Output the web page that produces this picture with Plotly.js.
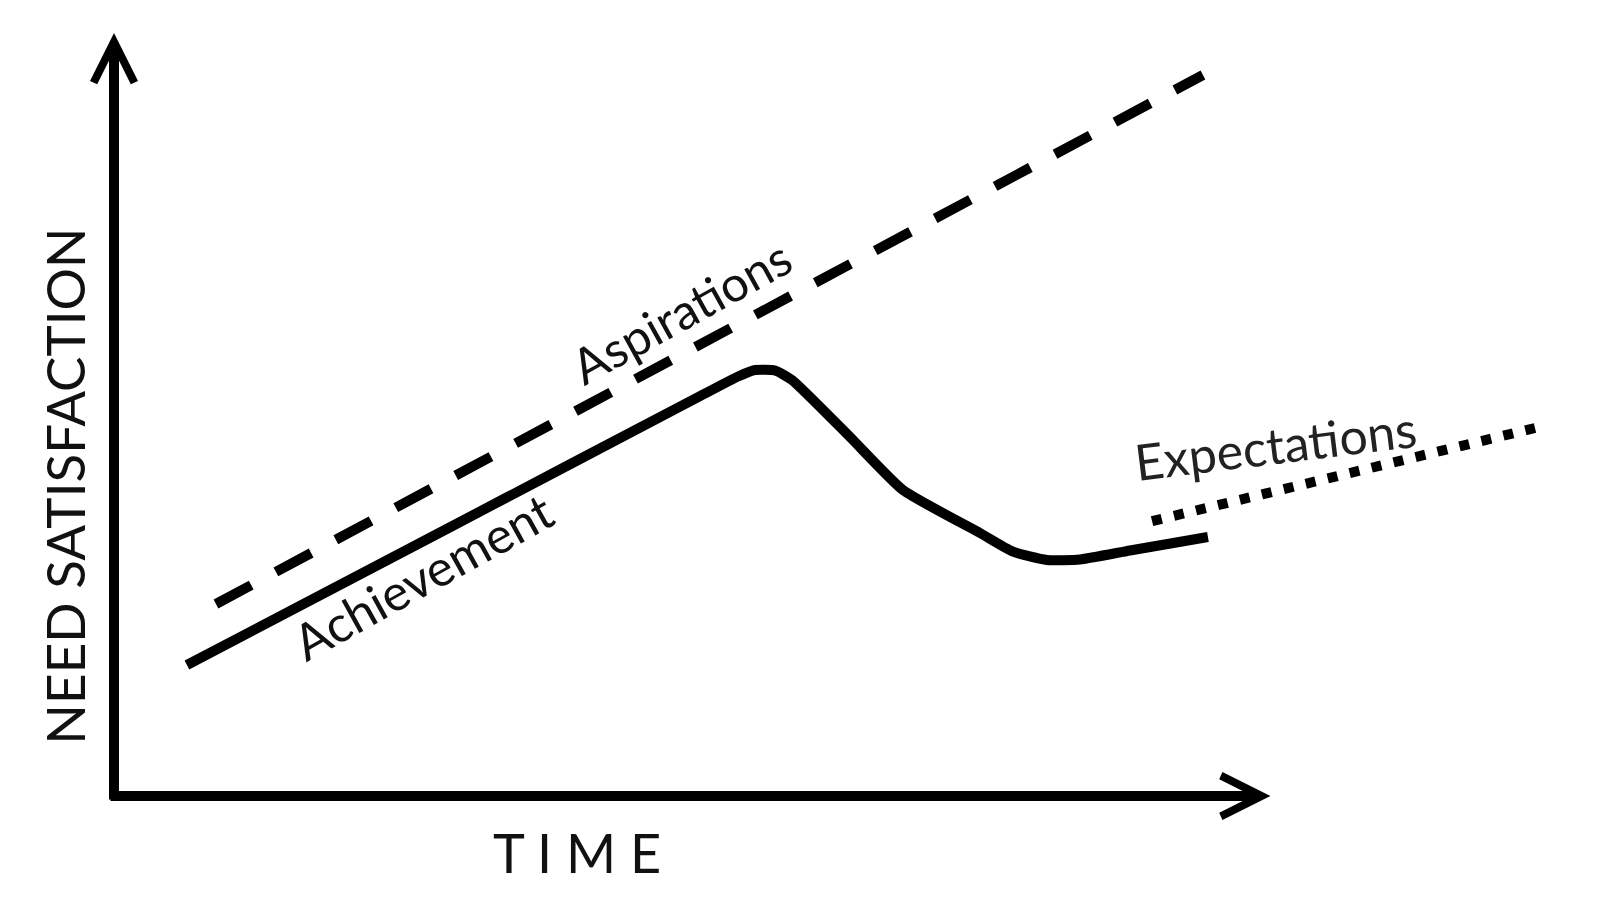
<!DOCTYPE html>
<html>
<head>
<meta charset="utf-8">
<script src="https://cdn.plot.ly/plotly-3.0.1.min.js"></script>
<style>
  html, body { margin: 0; padding: 0; background: #ffffff; }
  #chart { width: 1600px; height: 900px; }
</style>
</head>
<body>
<div id="chart"></div>
<script>
// ---- Data (time units on x, need-satisfaction units on y) ----
const achievementX = [5.10, 23.50, 40.98, 43.64, 44.83, 46.22, 47.41, 51.47, 55.17, 60.56, 62.87, 65.24, 67.55, 71.05, 76.50];
const achievementY = [17.17, 35.23, 52.40, 54.98, 55.83, 55.77, 54.52, 47.05, 40.10, 34.47, 32.02, 30.93, 31.00, 32.18, 33.94];

const aspirationsX = [7.13, 76.15];
const aspirationsY = [25.16, 94.50];

const expectationsX = [72.59, 99.37];
const expectationsY = [36.02, 48.23];

// axis extents drawn as arrows
const timeAxisX = [-0.35, 80.87];
const needAxisY = [-0.65, 100];

const seriesNames = ["Achievement", "Aspirations", "Expectations"];
const axisLabels = ["T I M E", "NEED SATISFACTION"];

const FONT = "Lato, 'DejaVu Sans', sans-serif";

const traces = [
  {
    x: achievementX, y: achievementY, name: seriesNames[0],
    type: "scatter", mode: "lines",
    line: { color: "#000000", width: 10, shape: "spline", smoothing: 0.5 },
    hoverinfo: "skip"
  },
  {
    x: aspirationsX, y: aspirationsY, name: seriesNames[1],
    type: "scatter", mode: "lines",
    line: { color: "#000000", width: 10, dash: "40px,28px" },
    hoverinfo: "skip"
  },
  {
    x: expectationsX, y: expectationsY, name: seriesNames[2],
    type: "scatter", mode: "lines",
    line: { color: "#000000", width: 10, dash: "10px,12.6px" },
    hoverinfo: "skip"
  }
];

const layout = {
  width: 1600, height: 900,
  margin: { l: 114, r: 56, t: 33, b: 104, pad: 0 },
  paper_bgcolor: "#ffffff",
  plot_bgcolor: "#ffffff",
  showlegend: false,
  xaxis: { range: [0, 100], visible: false, fixedrange: true },
  yaxis: { range: [0, 100], visible: false, fixedrange: true },
  annotations: [
    // time axis with arrow
    {
      xref: "x", yref: "y", axref: "x", ayref: "y",
      x: timeAxisX[1], y: 0, ax: timeAxisX[0], ay: 0,
      text: "", showarrow: true, arrowhead: 5, arrowsize: 0.8,
      arrowwidth: 10, arrowcolor: "#000000", standoff: 0
    },
    // need-satisfaction axis with arrow
    {
      xref: "x", yref: "y", axref: "x", ayref: "y",
      x: 0, y: needAxisY[1], ax: 0, ay: needAxisY[0],
      text: "", showarrow: true, arrowhead: 5, arrowsize: 0.8,
      arrowwidth: 10, arrowcolor: "#000000", standoff: 0
    },
    // axis labels
    {
      xref: "paper", yref: "paper", x: 0.3238, y: -0.0734,
      xanchor: "center", yanchor: "middle", showarrow: false,
      text: axisLabels[0],
      font: { family: FONT, size: 54, color: "#111111" }
    },
    {
      xref: "paper", yref: "paper", x: -0.0343, y: 0.407,
      xanchor: "center", yanchor: "middle", showarrow: false,
      textangle: -90,
      text: axisLabels[1],
      font: { family: FONT, size: 53, color: "#111111" }
    },
    // series labels
    {
      xref: "x", yref: "y", x: 39.65, y: 63.56,
      xanchor: "center", yanchor: "middle", showarrow: false,
      textangle: -29, text: seriesNames[1],
      font: { family: FONT, size: 49, color: "#111111" }
    },
    {
      xref: "x", yref: "y", x: 21.6, y: 28.83,
      xanchor: "center", yanchor: "middle", showarrow: false,
      textangle: -29, text: seriesNames[0],
      font: { family: FONT, size: 50, color: "#111111" }
    },
    {
      xref: "x", yref: "y", x: 81.2, y: 46.0,
      xanchor: "center", yanchor: "middle", showarrow: false,
      textangle: -7, text: seriesNames[2],
      font: { family: FONT, size: 50, color: "#222222" }
    }
  ]
};

Plotly.newPlot("chart", traces, layout, { staticPlot: true, displayModeBar: false });
</script>
</body>
</html>
